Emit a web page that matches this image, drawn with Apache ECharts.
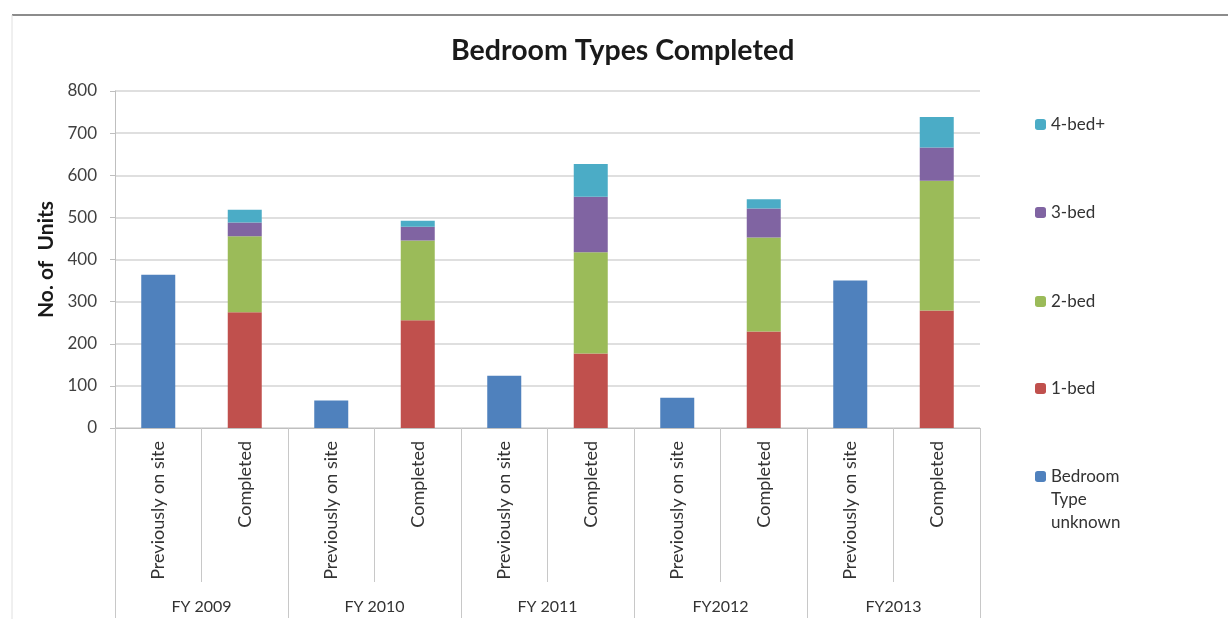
<!DOCTYPE html>
<html><head><meta charset="utf-8">
<script src="https://cdn.jsdelivr.net/npm/echarts@6/dist/echarts.min.js"></script>
<style>html,body{margin:0;padding:0;background:#fff;}#c{width:1228px;height:619px;}</style>
</head><body><div id="c"></div>
<script>
const categories = ['Previously on site','Completed','Previously on site','Completed','Previously on site','Completed','Previously on site','Completed','Previously on site','Completed'];
const groups = ['FY 2009','FY 2010','FY 2011','FY2012','FY2013'];
const unknownVals = [364, null, 65, null, 124, null, 72, null, 350, null];
const bed1 = [null, 275, null, 256, null, 177, null, 229, null, 279];
const bed2 = [null, 180, null, 189, null, 240, null, 223, null, 308];
const bed3 = [null, 33, null, 33, null, 132, null, 69, null, 79];
const bed4 = [null, 30, null, 14, null, 78, null, 22, null, 72];
const seriesNames = ['Bedroom Type unknown','1-bed','2-bed','3-bed','4-bed+'];
const seriesColors = ['#4F81BD','#C0504D','#9BBB59','#8064A2','#4BACC6'];
const seriesData = [unknownVals, bed1, bed2, bed3, bed4];

const FONT = 'Lato';
const chart = echarts.init(document.getElementById('c'));
const legendTops = {'4-bed+':116,'3-bed':204,'2-bed':293,'1-bed':380};
const legends = Object.keys(legendTops).map(n => ({
  data:[n], orient:'vertical', left:1035, top:legendTops[n], padding:0,
  itemWidth:11, itemHeight:11, itemGap:10, selectedMode:false,
  textStyle:{fontFamily:FONT, fontSize:17, color:'#333'}
}));
legends.push({
  data:['Bedroom Type unknown'], orient:'vertical', left:1035, top:419, padding:0,
  itemWidth:11, itemHeight:11, selectedMode:false,
  formatter: () => '\n\nBedroom\nType\nunknown',
  textStyle:{fontFamily:FONT, fontSize:17, color:'#333', lineHeight:23}
});

chart.setOption({
  animation:false,
  textStyle:{fontFamily:FONT},
  title:{text:'Bedroom Types Completed', left:451, top:36, padding:0,
    textStyle:{fontFamily:FONT, fontSize:28.5, fontWeight:'bold', color:'#1a1a1a'}},
  legend: legends,
  grid:{left:115, right:248, top:91, bottom:191, containLabel:false},
  xAxis:[{
    type:'category', data:categories,
    axisLine:{show:true, lineStyle:{color:'#BFBFBF', width:1}},
    axisTick:{show:true, length:154, interval:0, lineStyle:{color:'#C8C8C8'}},
    axisLabel:{rotate:90, interval:0, margin:13, fontSize:18, color:'#333', fontFamily:FONT}
  },{
    type:'category', data:groups, position:'bottom',
    axisLine:{show:false},
    axisTick:{show:true, length:190, interval:0, lineStyle:{color:'#C8C8C8'}},
    axisLabel:{margin:171, fontSize:16, color:'#333', fontFamily:FONT, interval:0}
  }],
  yAxis:{
    type:'value', min:0, max:800, interval:100,
    name:'No. of  Units', nameLocation:'middle', nameGap:56,
    nameTextStyle:{fontFamily:FONT, fontSize:21, fontWeight:'bold', color:'#1a1a1a'},
    axisLine:{show:true, lineStyle:{color:'#BFBFBF'}},
    axisTick:{show:true, length:5, lineStyle:{color:'#BFBFBF'}},
    axisLabel:{margin:18, fontSize:17, color:'#404040', fontFamily:FONT},
    splitLine:{lineStyle:{color:'#D4D4D4', width:1.5}}
  },
  graphic:[
    {type:'line', shape:{x1:12, y1:15, x2:1228, y2:15}, style:{stroke:'#8C8C8C', lineWidth:2}, silent:true},
    {type:'line', shape:{x1:12, y1:15, x2:12, y2:619}, style:{stroke:'#E0E0E0', lineWidth:1}, silent:true}
  ],
  series: seriesNames.map((n,i) => ({
    name:n, type:'bar', stack:'total', barWidth:34,
    itemStyle:{color:seriesColors[i]},
    data:seriesData[i]
  }))
});
</script></body></html>
